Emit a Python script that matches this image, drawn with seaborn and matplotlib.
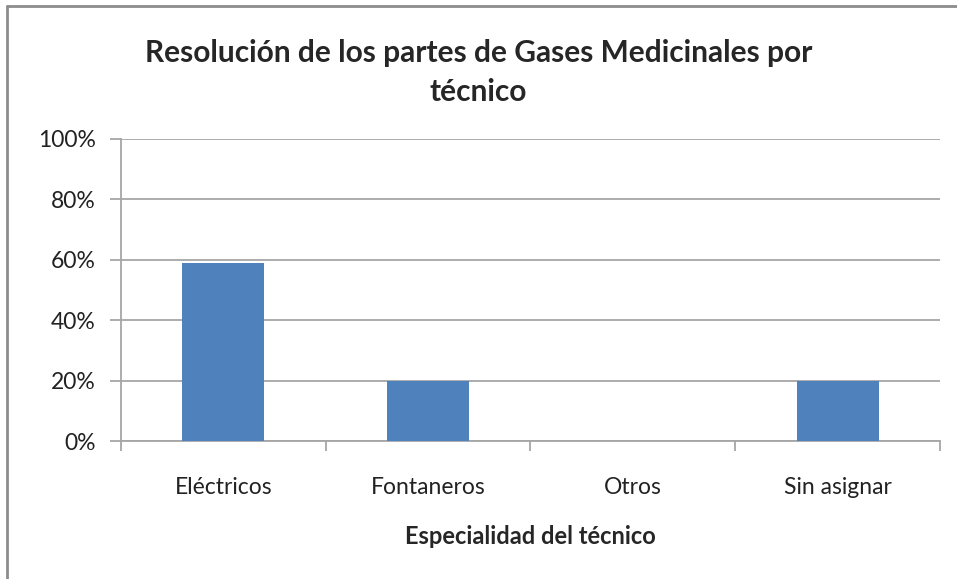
import matplotlib
matplotlib.use("Agg")
import matplotlib.pyplot as plt
import seaborn as sns
import pandas as pd
from matplotlib.lines import Line2D
from matplotlib.ticker import PercentFormatter

sns.set_theme(style="white")
plt.rcParams['font.family'] = ['Lato', 'DejaVu Sans']

# data
categorias = ["Eléctricos", "Fontaneros", "Otros", "Sin asignar"]
porcentajes = [0.59, 0.20, 0.0, 0.20]
y_ticks = [0.0, 0.2, 0.4, 0.6, 0.8, 1.0]

df = pd.DataFrame({"Especialidad": categorias, "Resolucion": porcentajes})

fig = plt.figure(figsize=(9.57, 5.79), dpi=100)
ax = fig.add_axes([0.1264, 0.2383, 0.8558, 0.5217])

sns.barplot(data=df, x="Especialidad", y="Resolucion", color="#4F81BD",
            saturation=1, width=0.4, linewidth=0, ax=ax, zorder=3)

ax.set_ylim(0, 1)
ax.set_xlim(-0.5, 3.5)
ax.set_yticks(y_ticks)
ax.yaxis.set_major_formatter(PercentFormatter(1.0, decimals=0))
ax.grid(axis="y", color="#A6A6A6", linewidth=1.3, zorder=0)
ax.grid(axis="x", visible=False)

for side in ["top", "right"]:
    ax.spines[side].set_visible(False)
for side in ["left", "bottom"]:
    ax.spines[side].set_color("#A6A6A6")
    ax.spines[side].set_linewidth(1.3)

# category separator ticks like the spreadsheet axis
ax.set_xticks([-0.5, 0.5, 1.5, 2.5, 3.5], minor=True)
ax.tick_params(axis="x", which="minor", length=7, color="#A6A6A6", width=1.3, bottom=True)
ax.tick_params(axis="x", which="major", length=0, pad=26, labelsize=16.5, labelcolor="#222222")
ax.tick_params(axis="y", length=8, color="#A6A6A6", width=1.3, left=True, pad=10,
               labelsize=16.5, labelcolor="#222222")

ax.set_ylabel("")
ax.set_xlabel("Especialidad del técnico", fontsize=17, fontweight="bold", labelpad=19)

fig.text(0.5, 0.875, "Resolución de los partes de Gases Medicinales por\ntécnico",
         ha="center", va="center", fontsize=21.5, fontweight="bold", linespacing=1.45)

# outer chart frame (left and top edges visible in the reference)
fig.add_artist(Line2D([0.0075, 0.0075], [0.0, 0.99], transform=fig.transFigure,
                      color="#8C8C8C", linewidth=2))
fig.add_artist(Line2D([0.0075, 1.0], [0.99, 0.99], transform=fig.transFigure,
                      color="#8C8C8C", linewidth=2))

fig.savefig("out.png", dpi=100)
